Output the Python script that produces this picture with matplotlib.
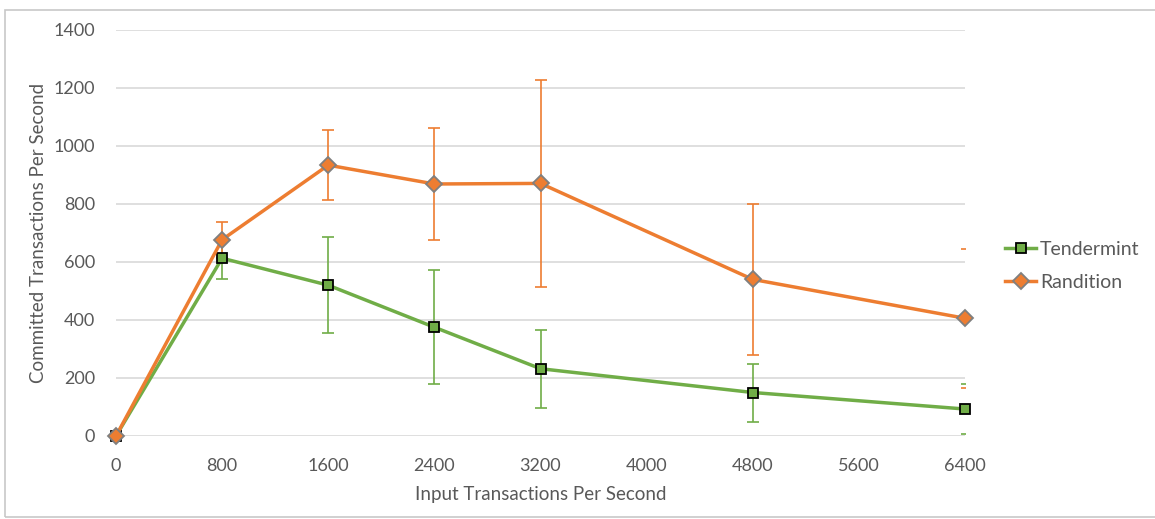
import numpy as np
import matplotlib.pyplot as plt
from matplotlib.patches import Rectangle

# Данные
input_tps = [0, 800, 1600, 2400, 3200, 4800, 6400]
tendermint = [0, 613, 520, 375, 232, 150, 93]
tendermint_err = [0, 70, 165, 197, 135, 100, 86]
randition = [0, 677, 934, 869, 871, 540, 406]
randition_err = [0, 62, 120, 194, 358, 261, 240]

x_ticks = [0, 800, 1600, 2400, 3200, 4000, 4800, 5600, 6400]
y_ticks = [0, 200, 400, 600, 800, 1000, 1200, 1400]

green = '#70ad47'
orange = '#ed7d31'
text_col = '#595959'

plt.rcParams['font.family'] = ['Lato', 'DejaVu Sans']

fig = plt.figure(figsize=(11.55, 5.19), dpi=100)
ax = fig.add_axes([116 / 1155, 1 - 436 / 519, (965 - 116) / 1155, (436 - 30) / 519])

# рамка вокруг всей картинки
fig.patches.append(Rectangle((5 / 1155, 2 / 519), 1.2, 1 - 12 / 519, transform=fig.transFigure,
                             fill=False, edgecolor='#c8c8c8', linewidth=1.2))

series = [
    ('Tendermint', tendermint, tendermint_err, green, 's', 'black', 7),
    ('Randition', randition, randition_err, orange, 'D', '#7f7f7f', 8),
]

for name, vals, errs, col, mk, mec, ms in series:
    # усы ошибок (у последней точки видны только засечки)
    ax.errorbar(input_tps[:-1], vals[:-1], yerr=errs[:-1], fmt='none', ecolor=col,
                elinewidth=1.2, capsize=4, capthick=1.2, zorder=2)
    ax.errorbar(input_tps[-1:], vals[-1:], yerr=errs[-1:], fmt='none', ecolor=col,
                elinewidth=0, capsize=3, capthick=1.2, zorder=2)

for name, vals, errs, col, mk, mec, ms in series:
    ax.plot(input_tps, vals, color=col, linewidth=2.5, marker=mk, markersize=ms,
            markerfacecolor=col, markeredgecolor=mec, markeredgewidth=1.3,
            label=name, zorder=3, clip_on=False)

ax.set_xlim(0, 6400)
ax.set_ylim(0, 1400)
ax.set_xticks(x_ticks)
ax.set_yticks(y_ticks)
ax.tick_params(length=0, labelsize=13, labelcolor=text_col)
ax.tick_params(axis='x', pad=15.5)
ax.tick_params(axis='y', pad=15)
ax.grid(axis='y', color='#d9d9d9', linewidth=1.2)
ax.set_axisbelow(True)
for s in ax.spines.values():
    s.set_visible(False)

ax.set_xlabel('Input Transactions Per Second', fontsize=13.5, color=text_col, labelpad=9)
ax.set_ylabel('Committed Transactions Per Second', fontsize=13.5, color=text_col, labelpad=5)

ax.legend(loc='center left', bbox_to_anchor=(1005 / 1155, 1 - 266 / 519), bbox_transform=fig.transFigure,
          frameon=False, fontsize=14, labelcolor=text_col, handlelength=1.6, handletextpad=0.2,
          labelspacing=0.85, borderaxespad=0, borderpad=0)

fig.savefig('out.png', dpi=100)
